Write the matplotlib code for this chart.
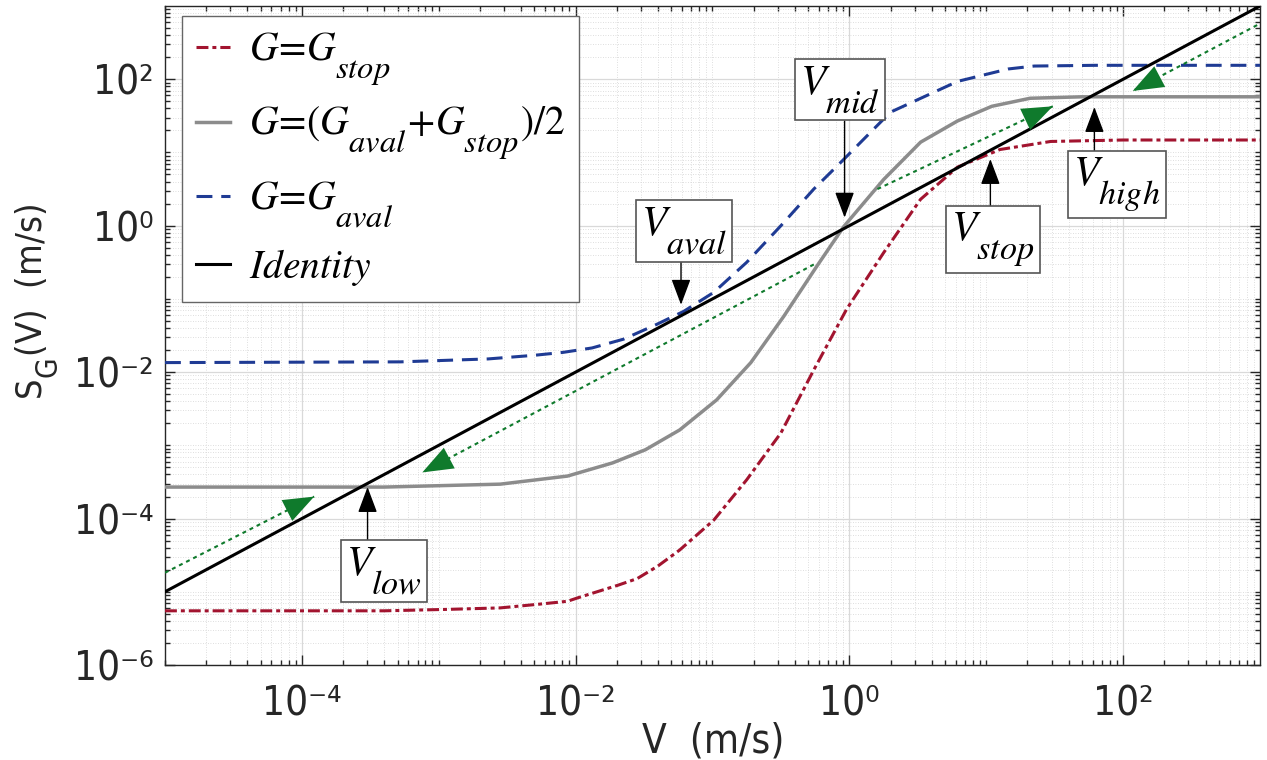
import numpy as np
import matplotlib
matplotlib.use('Agg')
import matplotlib.pyplot as plt
import matplotlib._mathtext as mathtext_internals
from matplotlib.ticker import FixedLocator, NullFormatter

plt.rcParams['mathtext.fontset'] = 'stix'
# the reference has large, well dropped subscripts
mathtext_internals.SHRINK_FACTOR = 0.82
mathtext_internals.STIXFontConstants.sub1 = 1.0

# curves, as log10(V) and log10(S)
red_logv = [-5.0, -3.4, -2.93, -2.55, -2.27, -2.06, -1.98, -1.69, -1.55, -1.40, -1.24,
            -0.99, -0.75, -0.50, -0.26, -0.02, 0.25, 0.52, 0.79, 1.10, 1.47, 2.0, 3.0]
red_logs = [-5.26, -5.26, -5.24, -5.22, -5.17, -5.13, -5.08, -4.91, -4.82, -4.65, -4.43,
            -4.02, -3.47, -2.83, -1.97, -1.14, -0.37, 0.36, 0.80, 1.04, 1.15, 1.17, 1.17]

gray_logv = [-5.0, -3.4, -2.55, -2.06, -1.73, -1.49, -1.24, -0.97, -0.72, -0.48, -0.24,
             -0.04, 0.25, 0.52, 0.79, 1.04, 1.32, 1.7, 3.0]
gray_logs = [-3.57, -3.57, -3.53, -3.42, -3.24, -3.06, -2.79, -2.38, -1.87, -1.24, -0.56,
             -0.01, 0.63, 1.14, 1.43, 1.63, 1.74, 1.76, 1.76]

blue_logv = [-5.0, -3.28, -2.64, -2.30, -2.09, -1.88, -1.65, -1.41, -1.21, -0.99, -0.75,
             -0.50, -0.26, -0.06, 0.30, 0.79, 1.16, 1.35, 1.8, 3.0]
blue_logs = [-1.87, -1.86, -1.82, -1.77, -1.73, -1.67, -1.55, -1.35, -1.17, -0.91, -0.50,
             0.0, 0.50, 0.87, 1.55, 1.97, 2.14, 2.18, 2.19, 2.19]

ident_logv = [-5.0, 3.0]

# green dotted arrows: (start, tip) in log10 units
green_arrows = [((-5.0, -4.74), (-3.91, -3.70)),
                ((-0.26, -0.53), (-3.12, -3.37)),
                ((0.205, 0.50), (1.486, 1.63)),
                ((3.03, 2.79), (2.07, 1.84))]

# labelled points: text, arrow tip, arrow base, box centre (log10 units)
marks = [(r'$V_{low}$', (-3.52, -3.57), (-3.52, -4.30), (-3.40, -4.72)),
         (r'$V_{aval}$', (-1.23, -1.08), (-1.23, -0.475), (-1.21, -0.07)),
         (r'$V_{mid}$', (-0.035, 0.11), (-0.035, 1.43), (-0.07, 1.86)),
         (r'$V_{stop}$', (1.03, 0.91), (1.03, 0.21), (1.05, -0.19)),
         (r'$V_{high}$', (1.79, 1.62), (1.79, 0.96), (1.955, 0.56))]

xmaj = [1e-4, 1e-2, 1e0, 1e2]
ymaj = [1e-6, 1e-4, 1e-2, 1e0, 1e2]
xlab = ['10⁻⁴', '10⁻²', '10⁰', '10²']
ylab = ['10⁻⁶', '10⁻⁴', '10⁻²', '10⁰', '10²']

red = '#a2142f'
blue = '#1f3b94'
gray = '#8c8c8c'
green = '#0f7a2c'
dark = '#262626'

p = lambda a: 10.0 ** np.array(a)

fig = plt.figure(figsize=(12.67, 7.6), dpi=100)
ax = fig.add_axes([0.1302, 0.125, 0.8643, 0.8671])

ax.plot(p(red_logv), p(red_logs), color=red, lw=2.2, dashes=(3.9, 1.3, 1.3, 1.3),
        label=r'$G\!=\!G_{stop}$', zorder=3)
ax.plot(p(gray_logv), p(gray_logs), color=gray, lw=2.5,
        label=r'$G\!=\!(G_{aval}\!+\!G_{stop})/2$', zorder=3)
ax.plot(p(blue_logv), p(blue_logs), color=blue, lw=2.2, dashes=(5.2, 2.9),
        label=r'$G\!=\!G_{aval}$', zorder=3)
ax.plot(p(ident_logv), p(ident_logv), color='k', lw=2.2, label=r'$Identity$', zorder=4)

for (s, t) in green_arrows:
    ax.plot(p([s[0], t[0]]), p([s[1], t[1]]), color=green, lw=1.5, dashes=(1.9, 1.9),
            zorder=5)
    ax.annotate('', xy=p(t), xytext=p(s),
                arrowprops=dict(arrowstyle='-|>,head_length=1.1,head_width=0.42',
                                mutation_scale=20, fc=green, ec=green, lw=0,
                                shrinkA=0, shrinkB=0), zorder=5)

for txt, tip, base, centre in marks:
    ax.annotate('', xy=p(tip), xytext=p(base),
                arrowprops=dict(arrowstyle='-|>,head_length=0.8,head_width=0.3',
                                mutation_scale=20, color='k', lw=1,
                                shrinkA=0, shrinkB=0), zorder=6)
    ax.text(*p(centre), txt, ha='center', va='center', fontsize=30, zorder=7,
            bbox=dict(boxstyle='square,pad=0.12', fc='white', ec='#555555', lw=1.2))

ax.set_xscale('log')
ax.set_yscale('log')
ax.set_xlim(1e-5, 1e3)
ax.set_ylim(1e-6, 1e3)

tickfont = dict(family='DejaVu Sans', stretch='condensed', size=29)
ax.set_xticks(xmaj)
ax.set_yticks(ymaj)
ax.set_xticklabels(xlab, fontdict=tickfont, color=dark)
ax.set_yticklabels(ylab, fontdict=tickfont, color=dark)

minor = [k * 10.0 ** n for n in range(-6, 3) for k in range(1, 10)]
ax.xaxis.set_minor_locator(FixedLocator([m for m in minor if m not in xmaj]))
ax.yaxis.set_minor_locator(FixedLocator([m for m in minor if m not in ymaj]))
ax.xaxis.set_minor_formatter(NullFormatter())
ax.yaxis.set_minor_formatter(NullFormatter())

ax.tick_params(which='both', direction='in', top=True, right=True, color=dark, width=1)
ax.tick_params(which='major', length=7)
ax.tick_params(which='minor', length=3.5)
ax.tick_params(axis='x', which='major', pad=14)
ax.tick_params(axis='y', which='major', pad=8)
for sp in ax.spines.values():
    sp.set_color(dark)
    sp.set_linewidth(1)

ax.grid(True, which='major', color='#d9d9d9', lw=0.9)
ax.grid(True, which='minor', color='#d4d4d4', lw=0.6, dashes=(1, 2))
ax.set_axisbelow(True)

ax.set_xlabel('V  (m/s)', fontdict=tickfont, color=dark)
ax.xaxis.set_label_coords(0.501, -0.085)
ylabfont = dict(tickfont, size=26)
ax.set_ylabel(r'S$_{\mathregular{G}}$(V)  (m/s)', fontdict=ylabfont, color=dark)
ax.yaxis.set_label_coords(-0.096, 0.55)

leg = ax.legend(loc='upper left', bbox_to_anchor=(0.0156, 0.985), borderaxespad=0,
                fontsize=28.5, handlelength=0.85, handletextpad=0.5, labelspacing=0.42,
                borderpad=0.35, fancybox=False, framealpha=1, edgecolor='#666666')
leg.get_frame().set_linewidth(1)
leg.set_zorder(10)

fig.savefig('out.png', dpi=100)
